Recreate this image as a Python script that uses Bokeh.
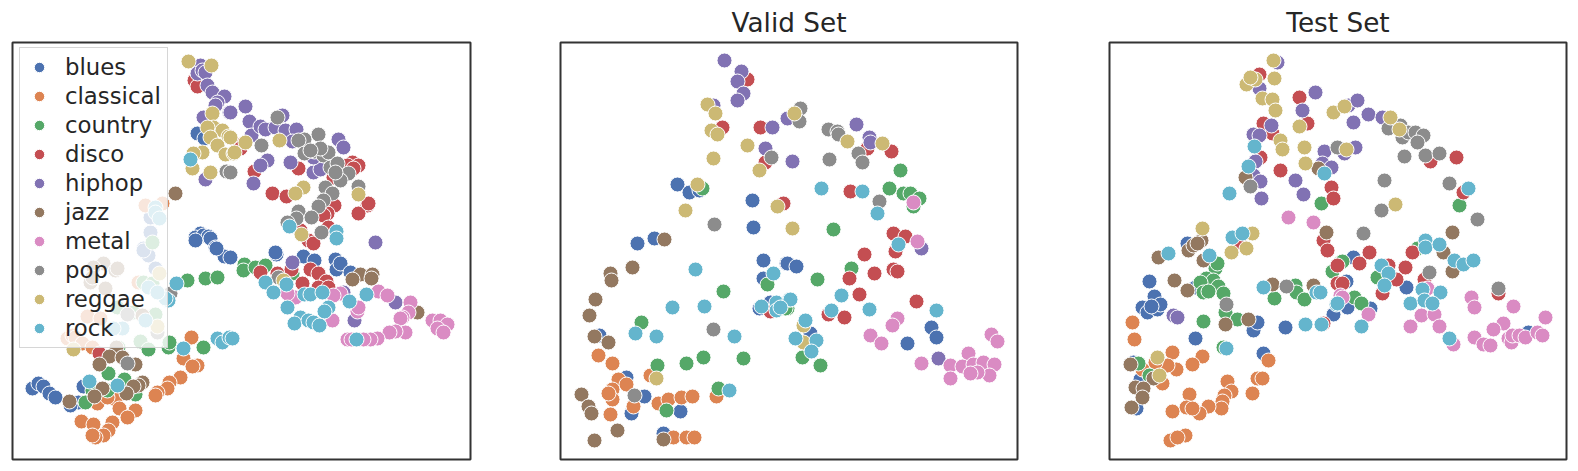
from bokeh.plotting import figure
from bokeh.layouts import row
from bokeh.models import Range1d, Legend, LegendItem, ColumnDataSource
from bokeh.embed import file_html
from bokeh.resources import INLINE

genres = ["blues", "classical", "country", "disco", "hiphop", "jazz", "metal", "pop", "reggae", "rock"]
colors = ["#4C72B0", "#DD8452", "#55A868", "#C44E52", "#8172B3", "#937860", "#DA8BC3", "#8C8C8C", "#CCB974", "#64B5CD"]
titles = ["", "Valid Set", "Test Set"]

# Values (embedding coordinates in the picture's own scale)
train_blues = [(197,133),(204,138),(200,233),(195,237),(203,235),(208,236),(210,238),(215,247),(224,256),(216,248),(195,240),(32,388),(38,383),(43,386),(49,393),(55,397),(83,386),(78,402),(70,405),(167,300),(150,232),(143,248),(148,255),(143,250),(155,268),(150,217),(276,254),(275,252),(303,256),(314,260),(335,259),(336,269),(340,263),(350,272),(230,257)]
train_classical = [(145,205),(162,203),(138,282),(87,316),(100,318),(67,338),(72,335),(75,337),(82,343),(92,347),(191,337),(183,358),(197,365),(192,366),(180,377),(169,382),(167,388),(157,392),(155,395),(115,399),(119,408),(135,410),(127,417),(112,422),(81,421),(93,424),(108,430),(103,435),(95,437),(92,435),(97,403),(107,397)]
train_country = [(152,242),(187,280),(205,278),(217,277),(143,282),(152,283),(117,307),(133,312),(155,314),(140,341),(148,349),(168,347),(169,342),(203,347),(108,373),(124,379),(92,390),(107,390),(85,402),(135,394),(118,347),(244,264),(243,270),(255,267),(265,265),(292,273)]
train_disco = [(194,80),(197,86),(238,145),(240,148),(254,171),(272,193),(286,196),(298,168),(352,162),(358,165),(347,165),(353,168),(333,177),(334,205),(327,213),(323,215),(367,205),(358,213),(368,203),(328,227),(300,230),(308,240),(313,243),(260,272),(277,273),(291,269),(310,269),(318,273),(326,281),(302,283),(318,287),(328,287),(99,353)]
train_hiphop = [(200,65),(197,73),(202,70),(205,72),(207,85),(212,92),(224,96),(217,102),(229,112),(203,117),(205,179),(215,105),(245,106),(230,112),(249,121),(251,135),(260,126),(265,129),(275,127),(285,130),(282,115),(296,129),(292,141),(338,139),(343,147),(290,162),(267,160),(260,165),(253,183),(313,172),(320,169),(313,157),(375,242),(292,262),(343,292),(354,320),(395,302)]
train_jazz = [(175,193),(103,263),(115,270),(90,282),(105,288),(93,267),(117,268),(92,277),(157,330),(142,315),(116,347),(109,356),(122,357),(99,364),(135,364),(142,382),(138,385),(133,386),(126,393),(102,388),(94,396),(69,401),(360,274),(372,274),(371,278),(352,279),(417,312)]
train_metal = [(378,291),(387,295),(340,293),(333,295),(295,297),(287,293),(332,320),(357,311),(358,307),(410,302),(408,312),(402,317),(400,318),(432,320),(440,320),(447,324),(437,328),(443,332),(405,332),(395,331),(389,332),(377,338),(370,339),(363,339),(347,339),(351,339)]
train_pop = [(226,171),(230,172),(261,145),(277,117),(318,134),(304,139),(298,140),(304,153),(314,151),(323,155),(328,152),(320,148),(310,150),(330,167),(337,163),(348,173),(340,180),(335,172),(325,187),(332,193),(323,200),(318,206),(298,211),(296,218),(287,222),(311,217),(321,232),(358,186),(278,277),(170,293),(127,363),(127,314),(157,332)]
train_reggae = [(188,61),(211,65),(212,113),(213,127),(207,127),(222,130),(228,136),(210,137),(217,145),(225,154),(233,153),(202,152),(193,153),(192,168),(210,172),(245,142),(234,152),(230,137),(279,140),(303,187),(295,193),(358,194),(301,234),(283,280),(73,349),(159,273),(157,326)]
train_rock = [(190,159),(155,207),(155,212),(159,218),(176,283),(168,300),(165,298),(148,287),(157,292),(145,320),(122,328),(113,328),(117,385),(89,381),(183,348),(217,338),(222,342),(229,337),(232,338),(289,226),(336,231),(336,238),(265,282),(273,292),(286,284),(304,294),(310,294),(322,292),(349,301),(366,294),(287,307),(328,307),(324,311),(300,317),(294,323),(308,320),(313,322),(319,325),(356,339)]

valid_blues = [(677,184),(689,192),(699,190),(752,200),(753,227),(637,243),(654,238),(763,260),(786,263),(763,278),(759,308),(770,302),(599,335),(626,377),(644,396),(631,413),(680,411),(663,433),(787,263),(796,266),(810,333),(931,327),(936,337),(907,343)]
valid_classical = [(598,355),(612,363),(618,379),(626,384),(612,389),(612,399),(610,414),(633,406),(608,393),(650,375),(658,403),(668,399),(681,397),(692,396),(716,396),(673,437),(686,437),(694,437)]
valid_country = [(702,188),(641,322),(723,291),(767,284),(657,365),(686,363),(703,357),(743,358),(718,388),(666,410),(787,308),(785,308),(802,357),(820,365),(833,229),(817,279),(851,268),(900,170),(889,188),(903,193),(910,193),(919,198),(913,206)]
valid_disco = [(747,79),(722,127),(760,127),(765,162),(783,203),(770,311),(850,191),(867,148),(891,151),(893,233),(905,236),(895,251),(864,254),(849,278),(874,273),(893,269),(897,271),(859,294),(828,314),(844,317),(916,301)]
valid_hiphop = [(724,60),(741,71),(737,81),(743,93),(737,100),(713,105),(772,127),(787,118),(765,148),(792,161),(856,124),(869,137),(870,142),(921,248),(938,358)]
valid_jazz = [(664,239),(632,267),(610,273),(611,280),(595,299),(589,315),(594,336),(608,342),(581,394),(588,406),(591,413),(617,430),(594,440),(663,439)]
valid_metal = [(913,202),(917,241),(897,318),(892,325),(870,335),(881,343),(921,363),(991,334),(997,341),(968,353),(950,365),(950,378),(962,366),(973,364),(983,362),(994,364),(989,375),(977,372),(970,373)]
valid_pop = [(714,224),(771,157),(713,329),(634,395),(800,108),(799,121),(828,129),(837,131),(838,134),(829,159),(858,153),(862,162),(879,201)]
valid_reggae = [(707,104),(715,113),(711,130),(717,134),(747,145),(713,158),(759,170),(697,184),(777,206),(685,210),(792,228),(794,113),(656,378),(847,141),(882,143),(803,325),(803,342)]
valid_rock = [(695,269),(773,273),(672,307),(704,306),(761,306),(776,302),(776,310),(789,299),(635,333),(656,336),(734,336),(729,390),(821,188),(862,191),(877,213),(898,244),(790,299),(780,307),(841,295),(831,310),(869,309),(936,310),(805,320),(795,338),(816,340),(811,351)]

test_blues = [(1187,243),(1149,281),(1154,296),(1142,307),(1147,312),(1157,309),(1160,304),(1151,306),(1195,287),(1195,338),(1253,330),(1257,322),(1285,327),(1263,353),(1333,314),(1133,362),(1140,379),(1136,408),(1353,257),(1346,281),(1347,307),(1370,308),(1406,287),(1528,332)]
test_classical = [(1132,322),(1134,339),(1172,352),(1202,356),(1192,364),(1176,369),(1167,365),(1155,362),(1142,369),(1162,383),(1268,360),(1257,378),(1262,378),(1252,393),(1227,381),(1231,391),(1224,395),(1222,401),(1221,408),(1208,406),(1199,413),(1189,394),(1186,407),(1172,411),(1192,408),(1170,440),(1185,435),(1177,437)]
test_country = [(1321,203),(1215,268),(1217,263),(1206,278),(1213,280),(1200,282),(1218,286),(1203,292),(1208,291),(1223,293),(1225,312),(1203,321),(1237,319),(1274,298),(1295,285),(1296,292),(1304,299),(1332,271),(1340,262),(1138,363),(1149,375),(1223,347),(1459,205),(1342,261),(1377,277),(1354,297),(1361,303),(1417,248)]
test_disco = [(1299,97),(1307,123),(1263,123),(1272,133),(1259,74),(1260,157),(1280,170),(1331,187),(1333,198),(1323,240),(1327,250),(1337,265),(1337,283),(1239,242),(1323,323),(1430,161),(1456,157),(1463,192),(1369,252),(1359,263),(1342,283),(1412,252),(1405,267),(1396,279),(1382,293),(1388,265),(1424,279),(1498,293)]
test_hiphop = [(1277,62),(1315,92),(1302,110),(1259,88),(1271,125),(1253,134),(1259,135),(1255,161),(1253,175),(1260,181),(1261,198),(1295,180),(1303,194),(1324,151),(1322,163),(1331,167),(1173,315),(1177,317),(1353,122),(1368,114),(1382,117),(1348,105),(1357,100),(1355,147),(1344,153)]
test_jazz = [(1245,177),(1318,168),(1326,232),(1158,257),(1188,250),(1193,245),(1201,240),(1197,243),(1203,260),(1174,280),(1187,290),(1272,284),(1313,285),(1225,324),(1248,319),(1130,364),(1153,378),(1135,387),(1143,388),(1142,397),(1131,407),(1452,232),(1443,252),(1452,271)]
test_metal = [(1288,217),(1313,222),(1340,295),(1342,297),(1368,314),(1427,288),(1421,315),(1434,314),(1410,326),(1439,326),(1453,344),(1471,297),(1474,307),(1513,306),(1545,317),(1503,323),(1493,329),(1474,337),(1483,344),(1490,345),(1508,338),(1511,342),(1512,335),(1519,335),(1525,337),(1537,332),(1542,335)]
test_pop = [(1250,186),(1286,286),(1226,304),(1337,147),(1388,128),(1400,125),(1402,137),(1408,132),(1415,132),(1423,135),(1417,142),(1404,156),(1425,155),(1439,153),(1384,180),(1449,183),(1381,210),(1477,219),(1363,233),(1429,272),(1498,288)]
test_reggae = [(1273,60),(1274,78),(1246,84),(1255,79),(1250,77),(1262,98),(1272,99),(1275,110),(1299,126),(1333,112),(1280,140),(1282,149),(1304,147),(1305,163),(1202,228),(1252,233),(1231,252),(1246,248),(1157,357),(1159,375),(1344,106),(1390,117),(1399,129),(1346,149),(1395,204)]
test_rock = [(1229,193),(1254,146),(1248,166),(1324,173),(1168,253),(1209,255),(1232,237),(1242,233),(1263,287),(1316,292),(1320,292),(1336,304),(1305,324),(1321,324),(1226,348),(1468,188),(1425,240),(1425,247),(1439,244),(1454,260),(1463,264),(1473,260),(1381,265),(1388,273),(1384,285),(1422,289),(1440,292),(1410,303),(1424,300),(1432,303),(1337,303),(1361,326),(1449,338)]

train = [train_blues, train_classical, train_country, train_disco, train_hiphop, train_jazz, train_metal, train_pop, train_reggae, train_rock]
valid = [valid_blues, valid_classical, valid_country, valid_disco, valid_hiphop, valid_jazz, valid_metal, valid_pop, valid_reggae, valid_rock]
test = [test_blues, test_classical, test_country, test_disco, test_hiphop, test_jazz, test_metal, test_pop, test_reggae, test_rock]

# panel: data, x-range, left border, right border
panels = [(train, (12, 470), 12, 40), (valid, (560, 1017), 50, 40), (test, (1109, 1566), 52, 2)]

figs = []
for i, (sets, xr, bl, br) in enumerate(panels):
    fw = xr[1] - xr[0]
    fh = 417
    p = figure(width=bl + fw + br, height=42 + fh + 4,
               x_range=Range1d(*xr), y_range=Range1d(459, 42),
               output_backend="svg", toolbar_location=None,
               min_border_left=bl, min_border_right=br, min_border_top=42, min_border_bottom=4,
               title=titles[i] if titles[i] else None)
    p.xaxis.visible = False
    p.yaxis.visible = False
    p.grid.visible = False
    p.outline_line_color = "#333333"
    p.outline_line_width = 2
    if titles[i]:
        p.title.text_font = "DejaVu Sans"
        p.title.text_font_size = "26.3px"
        p.title.text_font_style = "normal"
        p.title.text_color = "#262626"
        p.title.align = "center"
        p.title.standoff = 9
    items = []
    for g, c, pts in zip(genres, colors, sets):
        src = ColumnDataSource(dict(x=[q[0] for q in pts], y=[q[1] for q in pts]))
        r = p.scatter("x", "y", source=src, size=15, fill_color=c, line_color="white", line_width=1)
        items.append(LegendItem(label=g, renderers=[r]))
    if i == 0:
        leg = Legend(items=items, location=(7, 111), padding=6, spacing=3,
                     glyph_width=26, glyph_height=26, label_standoff=13, label_height=19,
                     label_text_font="DejaVu Sans", label_text_font_size="22.8px",
                     label_text_color="#262626", background_fill_color="white",
                     background_fill_alpha=0.8, border_line_color="#cccccc",
                     border_line_alpha=0.8, border_line_width=1.2)
        p.add_layout(leg, "center")
    figs.append(p)

layout = row(*figs, spacing=0)
open("out.html", "w").write(file_html(layout, INLINE))
